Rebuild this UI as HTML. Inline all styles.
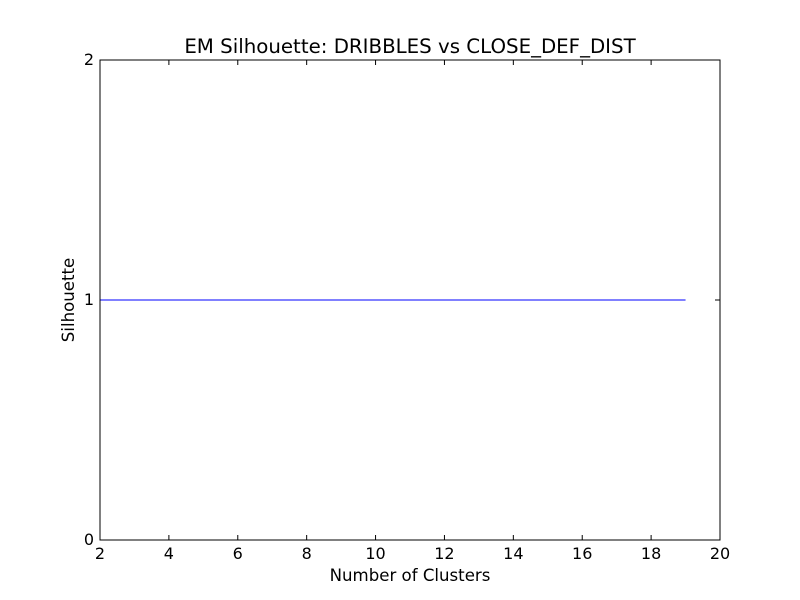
<!DOCTYPE html>
<html>
<head>
<meta charset="utf-8">
<style>
  html, body { margin: 0; padding: 0; background: #fff; }
  svg { display: block; font-family: "DejaVu Sans", "Liberation Sans", sans-serif; }
</style>
</head>
<body>
<svg id="chart" width="800" height="600" viewBox="0 0 800 600">
  <rect x="0" y="0" width="800" height="600" fill="#fff"/>
  <rect x="100" y="60" width="620" height="480" fill="#fff"/>
  <g id="ticks"></g>
  <g id="series"></g>
  <rect x="100" y="60" width="620" height="480" fill="none" stroke="#000" stroke-width="1"/>
  <text x="410" y="53" text-anchor="middle" font-size="19.8" fill="#000">EM Silhouette: DRIBBLES vs CLOSE_DEF_DIST</text>
  <text x="410" y="581" text-anchor="middle" font-size="16.6" fill="#000">Number of Clusters</text>
  <text x="74" y="300" text-anchor="middle" font-size="16.6" fill="#000" transform="rotate(-90 74 300)">Silhouette</text>
</svg>
<script>
const xTicks = [2, 4, 6, 8, 10, 12, 14, 16, 18, 20];
const yTicks = [0, 1, 2];
const clusters = [2, 3, 4, 5, 6, 7, 8, 9, 10, 11, 12, 13, 14, 15, 16, 17, 18, 19];
const silhouette = [1, 1, 1, 1, 1, 1, 1, 1, 1, 1, 1, 1, 1, 1, 1, 1, 1, 1];

const X0 = 100, X1 = 720, Y0 = 540, Y1 = 60;
const xMin = 2, xMax = 20, yMin = 0, yMax = 2;
function xs(v) { return X0 + (v - xMin) / (xMax - xMin) * (X1 - X0); }
function ys(v) { return Y0 - (v - yMin) / (yMax - yMin) * (Y0 - Y1); }

const NS = "http://www.w3.org/2000/svg";
const tg = document.getElementById("ticks");
function mk(tag, attrs) {
  const e = document.createElementNS(NS, tag);
  for (const k in attrs) e.setAttribute(k, attrs[k]);
  return e;
}
xTicks.forEach(function (t) {
  const x = xs(t);
  const a = mk("line", {x1: x, x2: x, y1: Y0, y2: Y0 - 5, stroke: "#000"});
  
  
  tg.appendChild(a);
  const b = mk("line", {x1: x, x2: x, y1: Y1, y2: Y1 + 5, stroke: "#000"});
  
  
  tg.appendChild(b);
  const l = mk("text", {x: x, y: Y0 + 19, "text-anchor": "middle", "font-size": "16", fill: "#000"});
  l.textContent = t;
  
  
  tg.appendChild(l);
});
yTicks.forEach(function (t) {
  const y = ys(t);
  const a = mk("line", {x1: X0, x2: X0 + 5, y1: y, y2: y, stroke: "#000"});
  
  
  tg.appendChild(a);
  const b = mk("line", {x1: X1, x2: X1 - 5, y1: y, y2: y, stroke: "#000"});
  
  
  tg.appendChild(b);
  const l = mk("text", {x: X0 - 6, y: y + 5, "text-anchor": "end", "font-size": "16", fill: "#000"});
  l.textContent = t;
  
  
  tg.appendChild(l);
});
const sg = document.getElementById("series");
const pts = clusters.map(function (c, i) { return xs(c) + "," + ys(silhouette[i]); }).join(" ");
const line = mk("polyline", {points: pts, fill: "none", stroke: "#0000ff", "stroke-width": "1"});


sg.appendChild(line);
</script>
</body>
</html>
